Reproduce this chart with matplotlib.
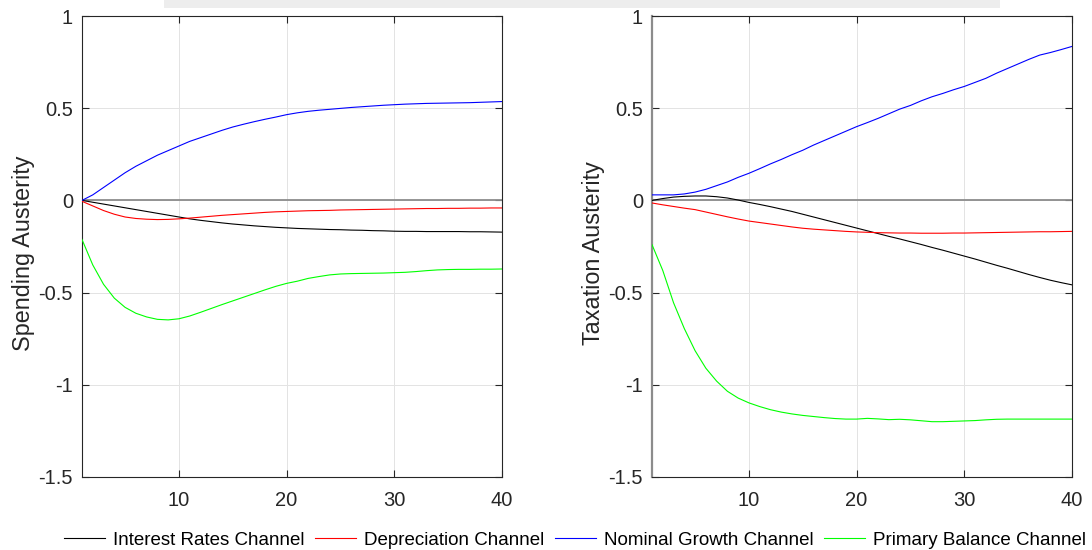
import numpy as np
import matplotlib
matplotlib.use("Agg")
import matplotlib.pyplot as plt
from matplotlib.patches import Rectangle
from matplotlib.ticker import FixedLocator, FixedFormatter

plt.rcParams['font.family'] = ['Liberation Sans', 'DejaVu Sans']

# Horizon (quarters)
horizon = list(range(1, 41))

# Spending austerity decomposition
spend_interest = [0.0, -0.01, -0.02, -0.03, -0.04, -0.05, -0.06, -0.07, -0.08, -0.09,
                  -0.1, -0.108, -0.115, -0.122, -0.128, -0.133, -0.138, -0.142, -0.146, -0.149,
                  -0.152, -0.154, -0.156, -0.158, -0.159, -0.161, -0.162, -0.164, -0.165, -0.167,
                  -0.168, -0.168, -0.169, -0.169, -0.169, -0.169, -0.17, -0.17, -0.171, -0.172]
spend_depreciation = [-0.005, -0.03, -0.055, -0.075, -0.09, -0.098, -0.102, -0.104, -0.103, -0.1,
                      -0.096, -0.091, -0.086, -0.081, -0.077, -0.073, -0.069, -0.065, -0.062, -0.06,
                      -0.058, -0.056, -0.055, -0.054, -0.052, -0.051, -0.05, -0.049, -0.048, -0.047,
                      -0.046, -0.045, -0.044, -0.044, -0.043, -0.043, -0.042, -0.042, -0.041, -0.041]
spend_growth = [0.0, 0.03, 0.07, 0.11, 0.15, 0.185, 0.215, 0.245, 0.27, 0.295,
                0.32, 0.34, 0.36, 0.38, 0.398, 0.413, 0.427, 0.44, 0.452, 0.465,
                0.475, 0.483, 0.489, 0.494, 0.499, 0.504, 0.508, 0.512, 0.516, 0.519,
                0.522, 0.524, 0.526, 0.527, 0.528, 0.529, 0.53, 0.532, 0.534, 0.536]
spend_primary = [-0.212, -0.35, -0.455, -0.53, -0.58, -0.612, -0.632, -0.645, -0.648, -0.642,
                 -0.627, -0.607, -0.586, -0.565, -0.545, -0.525, -0.505, -0.485, -0.466, -0.45,
                 -0.438, -0.423, -0.413, -0.404, -0.399, -0.397, -0.396, -0.395, -0.394, -0.392,
                 -0.39, -0.386, -0.381, -0.377, -0.375, -0.374, -0.374, -0.373, -0.373, -0.372]

# Taxation austerity decomposition
tax_interest = [0.0, 0.01, 0.018, 0.022, 0.024, 0.024, 0.02, 0.013, 0.002, -0.011,
                -0.022, -0.034, -0.047, -0.06, -0.075, -0.09, -0.105, -0.12, -0.135, -0.15,
                -0.165, -0.18, -0.195, -0.209, -0.224, -0.239, -0.255, -0.27, -0.286, -0.302,
                -0.318, -0.335, -0.352, -0.368, -0.385, -0.402, -0.418, -0.433, -0.446, -0.458]
tax_depreciation = [-0.014, -0.024, -0.033, -0.042, -0.05, -0.063, -0.076, -0.089, -0.101, -0.112,
                    -0.12, -0.128, -0.136, -0.144, -0.151, -0.156, -0.16, -0.164, -0.168, -0.171,
                    -0.173, -0.175, -0.176, -0.177, -0.177, -0.178, -0.178, -0.178, -0.177, -0.177,
                    -0.176, -0.175, -0.174, -0.173, -0.172, -0.171, -0.17, -0.17, -0.169, -0.168]
tax_growth = [0.03, 0.03, 0.03, 0.035, 0.045, 0.06, 0.08, 0.1, 0.125, 0.147,
              0.172, 0.198, 0.222, 0.248, 0.272, 0.3, 0.325, 0.35, 0.375, 0.4,
              0.422, 0.445, 0.47, 0.495, 0.515, 0.54, 0.562, 0.58, 0.6, 0.618,
              0.64, 0.662, 0.69, 0.715, 0.74, 0.765, 0.788, 0.802, 0.818, 0.835]
tax_primary = [-0.24, -0.38, -0.555, -0.695, -0.815, -0.91, -0.98, -1.035, -1.072, -1.098,
               -1.118, -1.135, -1.148, -1.158, -1.166, -1.172, -1.178, -1.183, -1.186, -1.186,
               -1.182, -1.185, -1.189, -1.187, -1.19, -1.195, -1.2, -1.2, -1.198, -1.196,
               -1.194, -1.19, -1.187, -1.186, -1.186, -1.186, -1.186, -1.186, -1.186, -1.186]

channel_names = ["Interest Rates Channel", "Depreciation Channel",
                 "Nominal Growth Channel", "Primary Balance Channel"]
channel_colors = ["#000000", "#ff0000", "#0000ff", "#00ff00"]

y_ticks = [-1.5, -1, -0.5, 0, 0.5, 1]
y_tick_labels = ["-1.5", "-1", "-0.5", "0", "0.5", "1"]
x_ticks = [10, 20, 30, 40]
x_tick_labels = ["10", "20", "30", "40"]

panels = [
    ("Spending Austerity", [spend_interest, spend_depreciation, spend_growth, spend_primary]),
    ("Taxation Austerity", [tax_interest, tax_depreciation, tax_growth, tax_primary]),
]

W, H = 1092, 550
fig = plt.figure(figsize=(W / 100, H / 100), dpi=100)

# faint band along the top edge
fig.patches.append(Rectangle((164 / W, 1 - 8 / H), (1000 - 164) / W, 8 / H,
                             transform=fig.transFigure, facecolor="#ededed",
                             edgecolor="none", zorder=0))

ax_left_px = [82, 652]
ax_w_px = 420
ax_top_px, ax_bot_px = 16, 477
handles = []
for i, (ylabel, series) in enumerate(panels):
    ax = fig.add_axes([ax_left_px[i] / W, 1 - ax_bot_px / H,
                       ax_w_px / W, (ax_bot_px - ax_top_px) / H])
    ax.set_xlim(1, 40)
    ax.set_ylim(-1.5, 1)
    ax.grid(True, color="#e3e3e3", linewidth=0.7)
    ax.set_axisbelow(True)
    ax.axhline(0, color="#8c8c8c", linewidth=1.3, zorder=1.5)
    lines = []
    for vals, name, col in zip(series, channel_names, channel_colors):
        ln, = ax.plot(horizon, vals, color=col, linewidth=0.8, label=name, zorder=3)
        lines.append(ln)
    if i == 0:
        handles = lines
    ax.xaxis.set_major_locator(FixedLocator(x_ticks))
    ax.xaxis.set_major_formatter(FixedFormatter(x_tick_labels))
    ax.yaxis.set_major_locator(FixedLocator(y_ticks))
    ax.yaxis.set_major_formatter(FixedFormatter(y_tick_labels))
    ax.tick_params(direction="in", length=5, width=0.8, colors="#262626",
                   labelsize=14.5, top=True, right=True)
    ax.tick_params(axis="y", pad=6.5)
    ax.tick_params(axis="x", pad=10)
    for s in ax.spines.values():
        s.set_color("#262626")
        s.set_linewidth(0.8)
    if i == 1:
        ax.spines["left"].set_color("#8c8c8c")
        ax.spines["left"].set_linewidth(1.6)
    ax.set_ylabel(ylabel, fontsize=16.8, color="#262626")
    ax.yaxis.set_label_coords(-0.113, 0.485)

fig.legend(handles=handles, loc="center", bbox_to_anchor=(575 / W, 1 - 540 / H),
           ncol=4, frameon=False, fontsize=13.5, handlelength=2.19,
           handletextpad=0.43, columnspacing=0.55, borderaxespad=0, borderpad=0)

fig.savefig("out.png", dpi=100)
